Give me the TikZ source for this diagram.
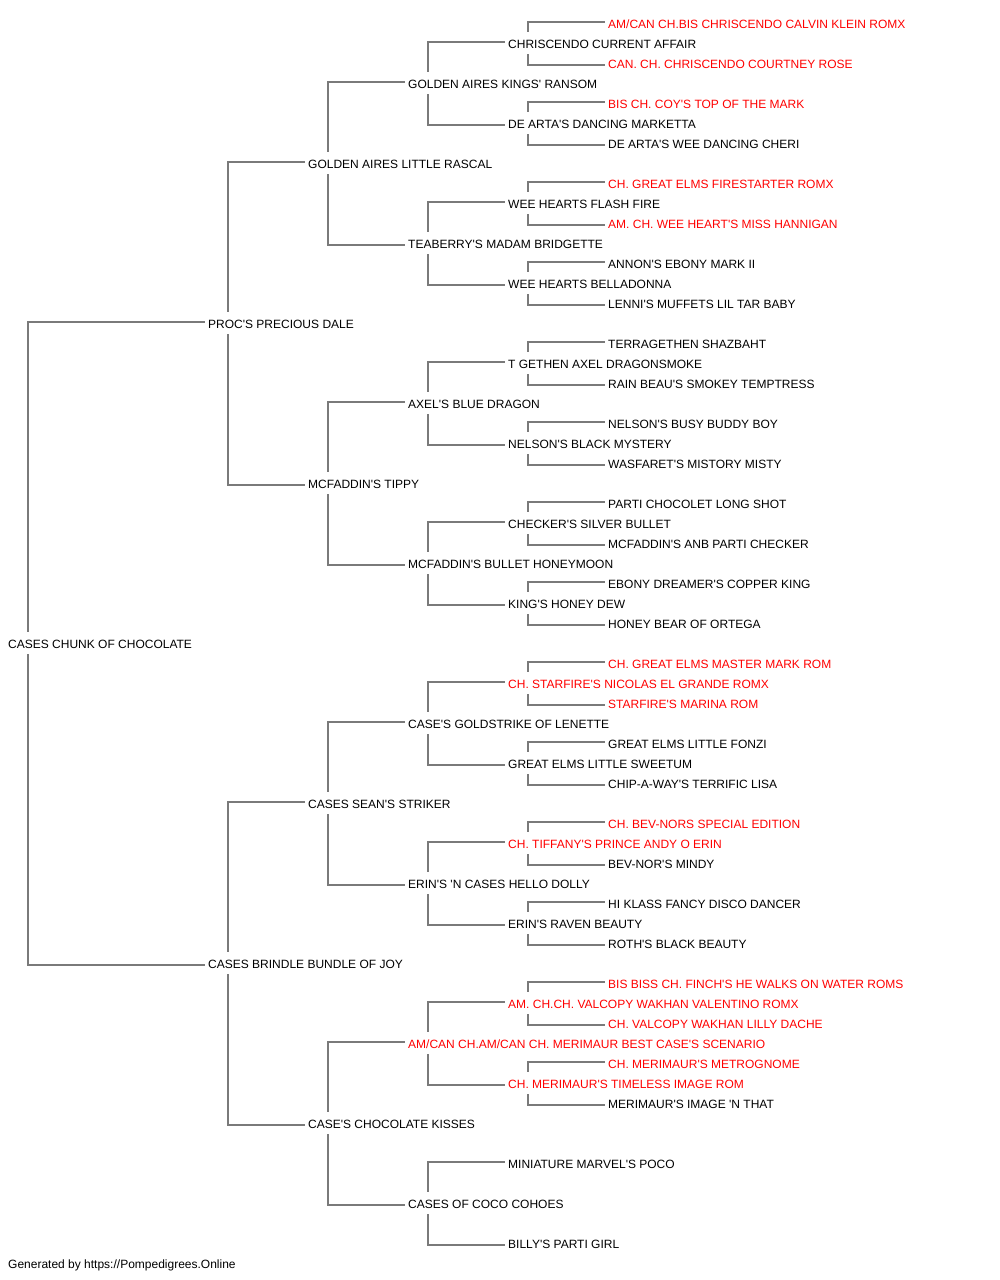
\documentclass[tikz,border=0pt]{standalone}
\usepackage{fontspec}
\newfontfamily\arialf{Liberation Sans}
\usetikzlibrary{backgrounds}
\definecolor{lnc}{HTML}{7A7A7A}
\tikzset{
  pn/.style={anchor=west, fill=white, inner xsep=3pt, inner ysep=0pt,
    text height=10.6pt, text depth=0pt, minimum height=22pt,
    font=\arialf\fontsize{12pt}{14pt}\selectfont, text=black},
  rd/.style={pn, text=red},
  conn/.style={draw=lnc, line width=1.5pt}
}
\begin{document}
\begin{tikzpicture}[x=1pt, y=-1pt]
\useasboundingbox (0,0) rectangle (1000,1280);
% generation 0
\node[pn] (n1) at (5,643) {CASES CHUNK OF CHOCOLATE};
% generation 1
\node[pn] (n2) at (205,323) {PROC'S PRECIOUS DALE};
\node[pn] (n3) at (205,963) {CASES BRINDLE BUNDLE OF JOY};
% generation 2
\node[pn] (n4) at (305,163) {GOLDEN AIRES LITTLE RASCAL};
\node[pn] (n5) at (305,483) {MCFADDIN'S TIPPY};
\node[pn] (n6) at (305,803) {CASES SEAN'S STRIKER};
\node[pn] (n7) at (305,1123) {CASE'S CHOCOLATE KISSES};
% generation 3
\node[pn] (n8) at (405,83) {GOLDEN AIRES KINGS' RANSOM};
\node[pn] (n9) at (405,243) {TEABERRY'S MADAM BRIDGETTE};
\node[pn] (n10) at (405,403) {AXEL'S BLUE DRAGON};
\node[pn] (n11) at (405,563) {MCFADDIN'S BULLET HONEYMOON};
\node[pn] (n12) at (405,723) {CASE'S GOLDSTRIKE OF LENETTE};
\node[pn] (n13) at (405,883) {ERIN'S 'N CASES HELLO DOLLY};
\node[rd] (n14) at (405,1043) {AM/CAN CH.AM/CAN CH. MERIMAUR BEST CASE'S SCENARIO};
\node[pn] (n15) at (405,1203) {CASES OF COCO COHOES};
% generation 4
\node[pn] (n16) at (505,43) {CHRISCENDO CURRENT AFFAIR};
\node[pn] (n17) at (505,123) {DE ARTA'S DANCING MARKETTA};
\node[pn] (n18) at (505,203) {WEE HEARTS FLASH FIRE};
\node[pn] (n19) at (505,283) {WEE HEARTS BELLADONNA};
\node[pn] (n20) at (505,363) {T GETHEN AXEL DRAGONSMOKE};
\node[pn] (n21) at (505,443) {NELSON'S BLACK MYSTERY};
\node[pn] (n22) at (505,523) {CHECKER'S SILVER BULLET};
\node[pn] (n23) at (505,603) {KING'S HONEY DEW};
\node[rd] (n24) at (505,683) {CH. STARFIRE'S NICOLAS EL GRANDE ROMX};
\node[pn] (n25) at (505,763) {GREAT ELMS LITTLE SWEETUM};
\node[rd] (n26) at (505,843) {CH. TIFFANY'S PRINCE ANDY O ERIN};
\node[pn] (n27) at (505,923) {ERIN'S RAVEN BEAUTY};
\node[rd] (n28) at (505,1003) {AM. CH.CH. VALCOPY WAKHAN VALENTINO ROMX};
\node[rd] (n29) at (505,1083) {CH. MERIMAUR'S TIMELESS IMAGE ROM};
\node[pn] (n30) at (505,1163) {MINIATURE MARVEL'S POCO};
\node[pn] (n31) at (505,1243) {BILLY'S PARTI GIRL};
% generation 5
\node[rd] (n32) at (605,23) {AM/CAN CH.BIS CHRISCENDO CALVIN KLEIN ROMX};
\node[rd] (n33) at (605,63) {CAN. CH. CHRISCENDO COURTNEY ROSE};
\node[rd] (n34) at (605,103) {BIS CH. COY'S TOP OF THE MARK};
\node[pn] (n35) at (605,143) {DE ARTA'S WEE DANCING CHERI};
\node[rd] (n36) at (605,183) {CH. GREAT ELMS FIRESTARTER ROMX};
\node[rd] (n37) at (605,223) {AM. CH. WEE HEART'S MISS HANNIGAN};
\node[pn] (n38) at (605,263) {ANNON'S EBONY MARK II};
\node[pn] (n39) at (605,303) {LENNI'S MUFFETS LIL TAR BABY};
\node[pn] (n40) at (605,343) {TERRAGETHEN SHAZBAHT};
\node[pn] (n41) at (605,383) {RAIN BEAU'S SMOKEY TEMPTRESS};
\node[pn] (n42) at (605,423) {NELSON'S BUSY BUDDY BOY};
\node[pn] (n43) at (605,463) {WASFARET'S MISTORY MISTY};
\node[pn] (n44) at (605,503) {PARTI CHOCOLET LONG SHOT};
\node[pn] (n45) at (605,543) {MCFADDIN'S ANB PARTI CHECKER};
\node[pn] (n46) at (605,583) {EBONY DREAMER'S COPPER KING};
\node[pn] (n47) at (605,623) {HONEY BEAR OF ORTEGA};
\node[rd] (n48) at (605,663) {CH. GREAT ELMS MASTER MARK ROM};
\node[rd] (n49) at (605,703) {STARFIRE'S MARINA ROM};
\node[pn] (n50) at (605,743) {GREAT ELMS LITTLE FONZI};
\node[pn] (n51) at (605,783) {CHIP-A-WAY'S TERRIFIC LISA};
\node[rd] (n52) at (605,823) {CH. BEV-NORS SPECIAL EDITION};
\node[pn] (n53) at (605,863) {BEV-NOR'S MINDY};
\node[pn] (n54) at (605,903) {HI KLASS FANCY DISCO DANCER};
\node[pn] (n55) at (605,943) {ROTH'S BLACK BEAUTY};
\node[rd] (n56) at (605,983) {BIS BISS CH. FINCH'S HE WALKS ON WATER ROMS};
\node[rd] (n57) at (605,1023) {CH. VALCOPY WAKHAN LILLY DACHE};
\node[rd] (n58) at (605,1063) {CH. MERIMAUR'S METROGNOME};
\node[pn] (n59) at (605,1103) {MERIMAUR'S IMAGE 'N THAT};
% footer
\node[pn, fill=none, text height=13.1pt, text depth=2.5pt] (foot) at (5,1263) {Generated by https://Pompedigrees.Online};
% connectors
\begin{scope}[on background layer]
\foreach \k in {1,...,29}{
  \pgfmathtruncatemacro\ca{2*\k}
  \pgfmathtruncatemacro\cb{2*\k+1}
  \draw[conn] ([yshift=1pt]n\ca.west) -| ([xshift=23pt]n\k.west) |- ([yshift=-2pt]n\cb.west);
}
\end{scope}
\end{tikzpicture}
\end{document}
